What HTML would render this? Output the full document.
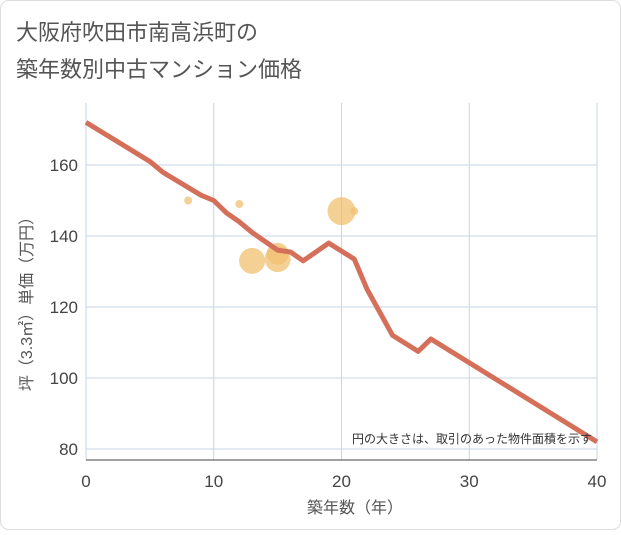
<!DOCTYPE html>
<html><head><meta charset="utf-8"><style>
body{margin:0;background:#fff;font-family:"Liberation Sans","Noto Sans CJK JP",sans-serif}
</style></head><body>
<svg width="621" height="530" xmlns="http://www.w3.org/2000/svg" style="font-family:'Liberation Sans','Noto Sans CJK JP',sans-serif">
<rect x="0.5" y="0.5" width="620" height="529" rx="8" fill="#fff" stroke="#ddd"/>
<text x="16" y="40" font-size="22" fill="#555">大阪府吹田市南高浜町の</text>
<text x="16" y="77" font-size="22" fill="#555">築年数別中古マンション価格</text>
<g id="grid"></g><g id="bubbles"></g><g id="line"></g><g id="axes"></g>
<text x="592" y="443" font-size="12" fill="#333" text-anchor="end">円の大きさは、取引のあった物件面積を示す</text>
<text x="355" y="513" font-size="16" fill="#555" text-anchor="middle">築年数（年）</text>
<text transform="translate(32,300) rotate(-90)" font-size="16" fill="#555" text-anchor="middle">坪（3.3㎡）単価（万円）</text>
</svg>
<script>
const xTicks=[0,10,20,30,40];
const yTicks=[80,100,120,140,160];
const lineX=[0,5,6,9,10,11,12,13,14,15,16,17,19,21,22,24,26,27,40];
const lineY=[172,161,158,151.5,150,146.5,144,141,138.5,136,135.5,133,138,133.5,125,112,107.5,111,82];
const bubX=[8,12,13,15,15,20,21];
const bubY=[150,149,133,133.5,135,147,147];
const bubR=[4,4,13,13,11,14,4];
const NS="http://www.w3.org/2000/svg";
const X=v=>86+v*(597-86)/40;
const Y=v=>449-(v-80)*(449-165)/80;
function mk(t,a,p){const e=document.createElementNS(NS,t);for(const k in a)e.setAttribute(k,a[k]);p.appendChild(e);return e;}
const g=document.getElementById('grid'),ax=document.getElementById('axes');
xTicks.forEach(t=>{const l=mk('line',{x1:X(t),x2:X(t),y1:103,y2:460,stroke:'#c8d4e6','stroke-width':1},g);


const tx=mk('text',{x:X(t),y:487,'font-size':17,fill:'#444','text-anchor':'middle'},ax);tx.textContent=t;

});
yTicks.forEach(t=>{const l=mk('line',{x1:86,x2:597,y1:Y(t),y2:Y(t),stroke:'#c8d4e6','stroke-width':1},g);


const tx=mk('text',{x:78,y:Y(t)+6,'font-size':17,fill:'#444','text-anchor':'end'},ax);tx.textContent=t;

});
const xa=mk('line',{x1:86,x2:597,y1:460,y2:460,stroke:'#444','stroke-width':1},ax);


const b=document.getElementById('bubbles');
bubX.forEach((v,i)=>{const c=mk('circle',{cx:X(v),cy:Y(bubY[i]),r:bubR[i],fill:'#f0c070','fill-opacity':0.75},b);

});
const p=mk('polyline',{points:lineX.map((v,i)=>X(v)+','+Y(lineY[i])).join(' '),fill:'none',stroke:'#d4705a','stroke-width':5,'stroke-linejoin':'round'},document.getElementById('line'));


</script>
</body></html>
